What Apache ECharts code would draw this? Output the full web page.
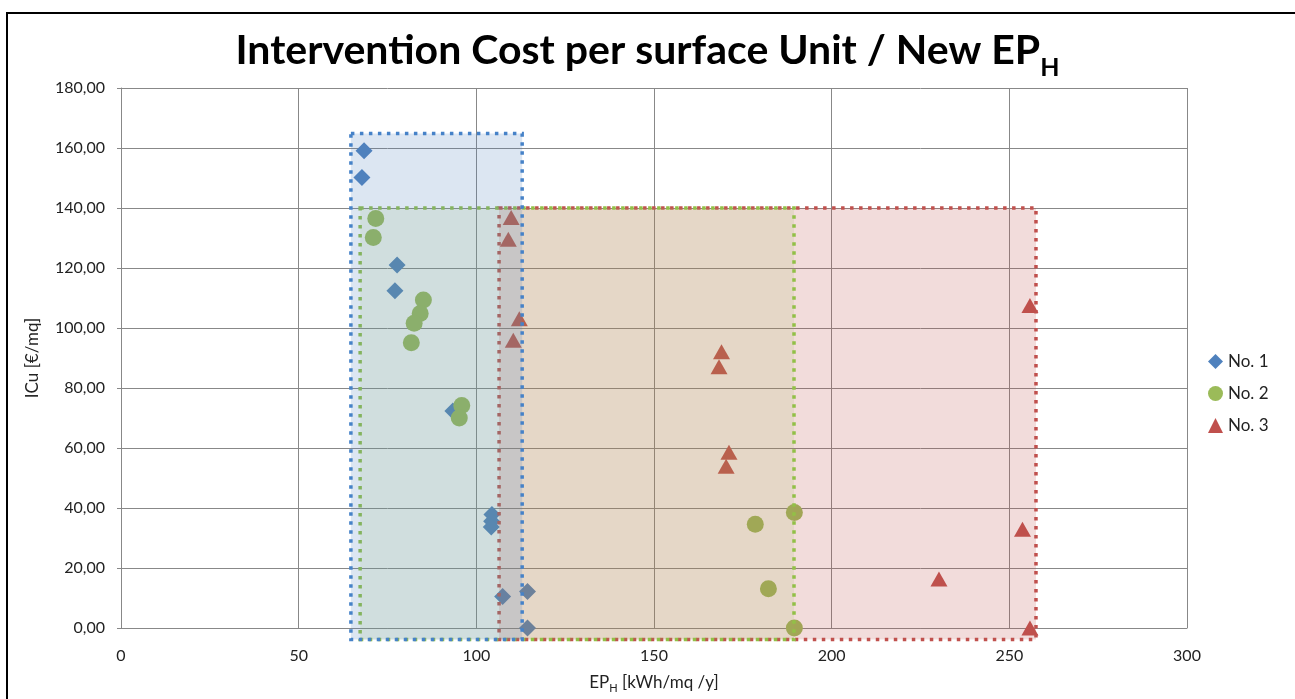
<!DOCTYPE html>
<html>
<head>
<meta charset="utf-8">
<script src="https://cdn.jsdelivr.net/npm/echarts@6/dist/echarts.min.js"></script>
<style>
  html, body { margin: 0; padding: 0; background: #fff; }
  #main { width: 1295px; height: 699px; }
</style>
</head>
<body>
<div id="main"></div>
<script>
// data: [EP_H, ICu]
var seriesNames = ['No. 1', 'No. 2', 'No. 3'];
var no1 = [[68.4, 159.1], [67.8, 150.2], [77.7, 121.0], [77.1, 112.4], [93.4, 72.3],
    [104.4, 37.8], [104.3, 35.6], [104.2, 33.7], [107.4, 10.5], [114.4, 12.2], [114.4, 0]];
var no2 = [[71.7, 136.5], [71.0, 130.2], [85.1, 109.3], [84.2, 104.8], [82.5, 101.6],
    [81.7, 95.1], [95.9, 74.2], [95.2, 70.0], [178.5, 34.6], [189.5, 38.5], [182.2, 13.1], [189.5, 0]];
var no3 = [[109.8, 136.8], [109.0, 129.6], [112.1, 103.1], [110.4, 95.9], [169.0, 92.1],
    [168.3, 87.1], [171.1, 58.6], [170.3, 53.9], [255.8, 107.5], [253.7, 32.9], [230.2, 16.3], [255.8, 0]];
// dotted zones: [xFrom, xTo, yFrom, yTo]  (red, green, blue)
var zones = [[106.4, 257.5, -3.8, 140], [67.3, 189.4, -3.8, 140], [64.7, 112.9, -3.8, 164.8]];
var yTickLabels = ['0,00', '20,00', '40,00', '60,00', '80,00', '100,00', '120,00', '140,00', '160,00', '180,00'];
var xTickLabels = ['0', '50', '100', '150', '200', '250', '300'];

var zoneFill = ['rgba(192,80,77,0.2)', 'rgba(155,187,89,0.15)', 'rgba(79,129,189,0.2)'];
var zoneStroke = ['#c0504d', '#92c047', '#4682c8'];
var font = 'Lato';

var dom = document.getElementById('main');
var myChart = echarts.init(dom);
var option = {
    animation: false,
    title: {
        text: '{m|Intervention Cost per surface Unit / New EP}{s|H}',
        left: 'center',
        top: 25,
        textStyle: {
            rich: {
                m: { fontSize: 41, fontWeight: 'bold', fontFamily: font, color: '#000' },
                s: { fontSize: 25, fontWeight: 'bold', fontFamily: font, color: '#000', verticalAlign: 'bottom', padding: [0, 0, -9, 0] }
            }
        }
    },
    graphic: [{
        type: 'rect',
        shape: { x: 7, y: 13, width: 1300, height: 700 },
        style: { fill: null, stroke: '#000', lineWidth: 2 },
        silent: true
    }],
    legend: {
        data: seriesNames,
        orient: 'vertical',
        left: 1203,
        top: 348,
        itemWidth: 15,
        itemHeight: 15,
        itemGap: 15,
        textStyle: { fontSize: 17, fontFamily: font, color: '#222' }
    },
    grid: { left: 121, right: 108, top: 88, bottom: 68 },
    xAxis: {
        type: 'value',
        min: 0, max: 300, interval: 50,
        name: '{a|EP}{b|H}{a| [kWh/mq /y]}',
        nameLocation: 'middle',
        nameGap: 46,
        nameTextStyle: {
            rich: {
                a: { fontSize: 17, fontFamily: font, color: '#222' },
                b: { fontSize: 11, fontFamily: font, color: '#222', verticalAlign: 'bottom', padding: [0, 0, -3, 0] }
            }
        },
        axisLine: { show: true, lineStyle: { color: '#888', width: 1 } },
        axisTick: { show: false },
        axisLabel: {
            margin: 20, fontSize: 16, fontFamily: font, color: '#222',
            formatter: function (v) { return xTickLabels[v / 50]; }
        },
        splitLine: { show: true, lineStyle: { color: '#888', width: 1 } }
    },
    yAxis: {
        type: 'value',
        min: 0, max: 180, interval: 20,
        name: 'ICu [€/mq]',
        nameLocation: 'middle',
        nameGap: 80,
        nameTextStyle: { fontSize: 17, fontFamily: font, color: '#222' },
        axisLine: { show: true, lineStyle: { color: '#888', width: 1 } },
        axisTick: { show: true, length: 4, lineStyle: { color: '#888' } },
        axisLabel: {
            margin: 16, fontSize: 16, fontFamily: font, color: '#222',
            formatter: function (v) { return yTickLabels[v / 20]; }
        },
        splitLine: { show: true, lineStyle: { color: '#888', width: 1 } }
    },
    series: [{
        name: seriesNames[0],
        type: 'scatter',
        symbol: 'diamond',
        symbolSize: 17,
        itemStyle: { color: '#4f81bd', opacity: 1 },
        data: no1
    }, {
        name: seriesNames[1],
        type: 'scatter',
        symbol: 'circle',
        symbolSize: 17,
        itemStyle: { color: '#9bbb59', opacity: 1 },
        data: no2
    }, {
        name: seriesNames[2],
        type: 'scatter',
        symbol: 'triangle',
        symbolSize: [17, 15],
        itemStyle: { color: '#c0504d', opacity: 1 },
        data: no3
    }, {
        name: 'zones',
        type: 'custom',
        z: 5,
        clip: false,
        silent: true,
        encode: { x: [0, 1], y: [2, 3] },
        renderItem: function (params, api) {
            var p1 = api.coord([api.value(0), api.value(3)]);
            var p2 = api.coord([api.value(1), api.value(2)]);
            var i = params.dataIndex;
            return {
                type: 'rect',
                shape: { x: p1[0], y: p1[1], width: p2[0] - p1[0], height: p2[1] - p1[1] },
                style: {
                    fill: zoneFill[i],
                    stroke: zoneStroke[i],
                    lineWidth: 3.5,
                    lineDash: [3.5, 5.5]
                }
            };
        },
        data: zones
    }]
};
if (option && typeof option === "object") {
    myChart.setOption(option, true);
}
</script>
</body>
</html>
